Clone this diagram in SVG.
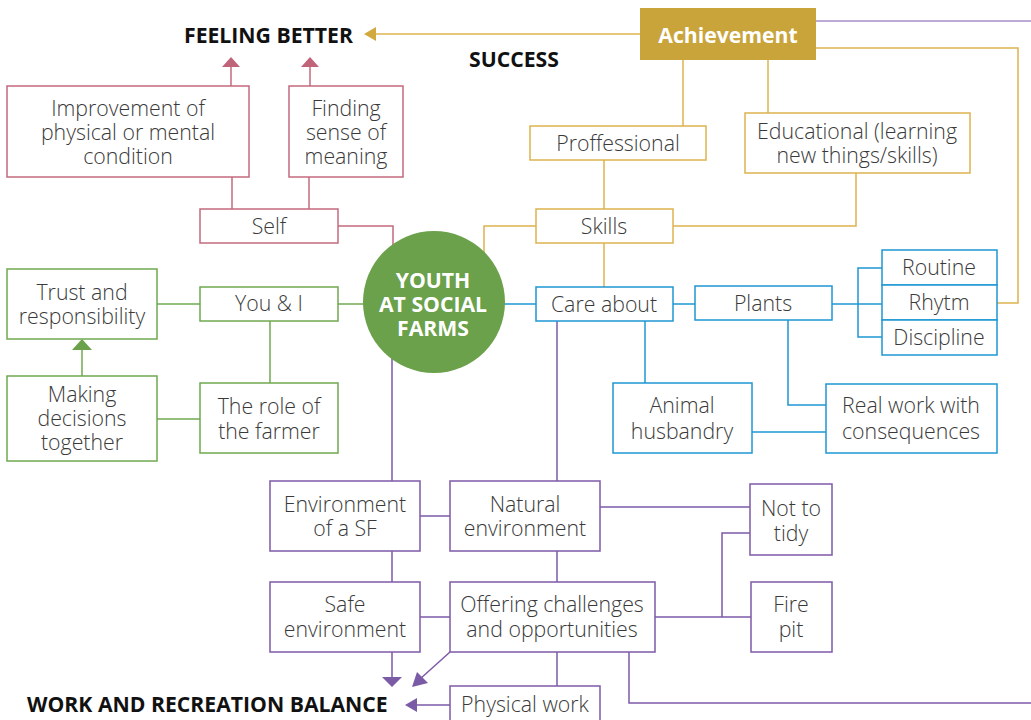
<svg xmlns="http://www.w3.org/2000/svg" width="1031" height="720" viewBox="0 0 1031 720">
<style>
text{font-family:"Open Sans","Liberation Sans",sans-serif;font-size:21.3px;fill:#3a3a3a;text-anchor:middle;font-weight:300}
.h{font-weight:700;fill:#111;text-anchor:start;font-size:21.2px}
.w{font-weight:700;fill:#fff;font-size:21.2px}
rect{fill:#fff;stroke-width:1.5}
.pk{stroke:#c36a7e}
.gr{stroke:#6fa84f}
.gd{stroke:#dcb34e}
.bl{stroke:#1e97d4}
.pu{stroke:#7d5aa8}
line,polyline{fill:none;stroke-width:1.5}
</style>
<rect x="0" y="0" width="1031" height="720" fill="#fff" stroke="none"/>
<g id="connectors">
  <line class="gd" x1="640" y1="34" x2="374" y2="34"/>
  <polygon points="364,34 376,27 376,41" fill="#d2a93e"/>
  <polyline class="gd" points="816,48 1018,48 1018,303 997,303"/>
  <line class="gd" x1="683" y1="60" x2="683" y2="126"/>
  <line class="gd" x1="768" y1="60" x2="768" y2="113"/>
  <line class="gd" x1="604" y1="160" x2="604" y2="209"/>
  <polyline class="gd" points="856,173 856,226 673,226"/>
  <polyline class="gd" points="536,226 484,226 484,256"/>
  <line class="gd" x1="604" y1="243" x2="604" y2="287"/>
  <line stroke="#a48fc7" stroke-width="2" x1="816" y1="21" x2="1031" y2="21"/>
  <line class="pk" x1="231" y1="86" x2="231" y2="66"/>
  <polygon points="231,57 222,67 240,67" fill="#c0647a"/>
  <line class="pk" x1="310" y1="86" x2="310" y2="66"/>
  <polygon points="310,57 301,67 319,67" fill="#c0647a"/>
  <line class="pk" x1="232" y1="177" x2="232" y2="209"/>
  <line class="pk" x1="309" y1="177" x2="309" y2="209"/>
  <polyline class="pk" points="338,226 393,226 393,250"/>
  <line class="gr" x1="157" y1="304" x2="200" y2="304"/>
  <line class="gr" x1="338" y1="304" x2="365" y2="304"/>
  <line class="gr" x1="270" y1="321" x2="270" y2="383"/>
  <line class="gr" x1="157" y1="419" x2="200" y2="419"/>
  <line class="gr" x1="82" y1="376" x2="82" y2="348"/>
  <polygon points="82,339 72,350 92,350" fill="#6aa14a"/>
  <line class="bl" x1="504" y1="304" x2="536" y2="304"/>
  <line class="bl" x1="673" y1="304" x2="695" y2="304"/>
  <line class="bl" x1="832" y1="304" x2="882" y2="304"/>
  <polyline class="bl" points="882,268 858,268 858,337 882,337"/>
  <line class="bl" x1="645" y1="321" x2="645" y2="383"/>
  <polyline class="bl" points="788,320 788,405 826,405"/>
  <line class="bl" x1="752" y1="432" x2="826" y2="432"/>
  <line class="pu" x1="557" y1="321" x2="557" y2="481"/>
  <line class="pu" x1="392" y1="355" x2="392" y2="481"/>
  <line class="pu" x1="420" y1="516" x2="450" y2="516"/>
  <line class="pu" x1="600" y1="507" x2="750" y2="507"/>
  <line class="pu" x1="392" y1="551" x2="392" y2="582"/>
  <line class="pu" x1="557" y1="551" x2="557" y2="582"/>
  <line class="pu" x1="420" y1="617" x2="450" y2="617"/>
  <line class="pu" x1="655" y1="617" x2="751" y2="617"/>
  <polyline class="pu" points="722,617 722,533 750,533"/>
  <line class="pu" x1="392" y1="652" x2="392" y2="678"/>
  <polygon points="392,687 382,677 402,677" fill="#7b5ba6"/>
  <line class="pu" x1="450" y1="652" x2="420" y2="679"/>
  <polygon points="412,687 417,672 428,683" fill="#7b5ba6"/>
  <line class="pu" x1="557" y1="652" x2="557" y2="686"/>
  <line class="pu" x1="450" y1="705" x2="415" y2="705"/>
  <polygon points="405,705 417,698 417,712" fill="#7b5ba6"/>
  <polyline class="pu" points="629,652 629,703 1031,703"/>
</g>
<g id="labels">
  <text class="h" x="184" y="43">FEELING BETTER</text>
  <text class="h" x="469" y="67">SUCCESS</text>
  <text class="h" x="27" y="712">WORK AND RECREATION BALANCE</text>
</g>
<g id="achievement"><rect x="640" y="8" width="176" height="52" style="fill:#c9a43b;stroke:none"/><text class="w" x="728" y="43">Achievement</text></g>
<g id="improvement"><rect class="pk" x="7" y="86" width="242" height="91"/><text x="128" y="116">Improvement of</text><text x="128" y="140">physical or mental</text><text x="128" y="164">condition</text></g>
<g id="finding"><rect class="pk" x="289" y="86" width="114" height="91"/><text x="346" y="116">Finding</text><text x="346" y="140">sense of</text><text x="346" y="164">meaning</text></g>
<g id="self"><rect class="pk" x="200" y="209" width="138" height="34"/><text x="269" y="234">Self</text></g>
<g id="proffessional"><rect class="gd" x="530" y="126" width="176" height="34"/><text x="618" y="151">Proffessional</text></g>
<g id="educational"><rect class="gd" x="745" y="113" width="225" height="60"/><text x="857" y="139">Educational (learning</text><text x="857" y="163">new things/skills)</text></g>
<g id="skills"><rect class="gd" x="536" y="209" width="137" height="34"/><text x="604" y="234">Skills</text></g>
<g id="youth"><circle cx="434" cy="302" r="71" fill="#6aa14a"/><text class="w" x="433" y="288">YOUTH</text><text class="w" x="433" y="312">AT SOCIAL</text><text class="w" x="433" y="336">FARMS</text></g>
<g id="trust"><rect class="gr" x="7" y="269" width="150" height="70"/><text x="82" y="300">Trust and</text><text x="82" y="324">responsibility</text></g>
<g id="youi"><rect class="gr" x="200" y="287" width="138" height="34"/><text x="269" y="311">You &amp; I</text></g>
<g id="making"><rect class="gr" x="7" y="376" width="150" height="85"/><text x="82" y="402">Making</text><text x="82" y="426">decisions</text><text x="82" y="450">together</text></g>
<g id="farmer"><rect class="gr" x="200" y="383" width="138" height="70"/><text x="269" y="414">The role of</text><text x="269" y="439">the farmer</text></g>
<g id="care"><rect class="bl" x="536" y="287" width="137" height="34"/><text x="604" y="312">Care about</text></g>
<g id="plants"><rect class="bl" x="695" y="286" width="137" height="34"/><text x="763" y="311">Plants</text></g>
<g id="routine"><rect class="bl" x="882" y="250" width="115" height="35"/><text x="939" y="275">Routine</text></g>
<g id="rhytm"><rect class="bl" x="882" y="285" width="115" height="35"/><text x="939" y="310">Rhytm</text></g>
<g id="discipline"><rect class="bl" x="882" y="320" width="115" height="35"/><text x="939" y="345">Discipline</text></g>
<g id="animal"><rect class="bl" x="613" y="383" width="139" height="70"/><text x="682" y="413">Animal</text><text x="682" y="439">husbandry</text></g>
<g id="realwork"><rect class="bl" x="826" y="384" width="171" height="69"/><text x="911" y="413">Real work with</text><text x="911" y="439">consequences</text></g>
<g id="envsf"><rect class="pu" x="270" y="481" width="150" height="70"/><text x="345" y="512">Environment</text><text x="345" y="536">of a SF</text></g>
<g id="natural"><rect class="pu" x="450" y="481" width="150" height="70"/><text x="525" y="512">Natural</text><text x="525" y="536">environment</text></g>
<g id="tidy"><rect class="pu" x="750" y="484" width="82" height="71"/><text x="791" y="516">Not to</text><text x="791" y="541">tidy</text></g>
<g id="safe"><rect class="pu" x="270" y="582" width="150" height="70"/><text x="345" y="612">Safe</text><text x="345" y="637">environment</text></g>
<g id="offering"><rect class="pu" x="450" y="582" width="205" height="70"/><text x="552" y="612">Offering challenges</text><text x="552" y="637">and opportunities</text></g>
<g id="fire"><rect class="pu" x="751" y="582" width="81" height="70"/><text x="791" y="612">Fire</text><text x="791" y="637">pit</text></g>
<g id="physical"><rect class="pu" x="450" y="686" width="150" height="44"/><text x="525" y="712">Physical work</text></g>
</svg>
